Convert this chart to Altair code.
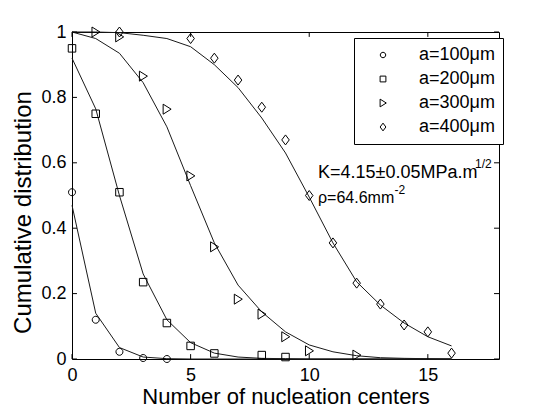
import altair as alt
import pandas as pd

series_names = ["a=100μm", "a=200μm", "a=300μm", "a=400μm"]

# measured points
x_100 = [0, 1, 2, 3, 4]
y_100 = [0.51, 0.12, 0.022, 0.003, 0.0]
x_200 = [0, 1, 2, 3, 4, 5, 6, 8, 9]
y_200 = [0.95, 0.75, 0.51, 0.235, 0.11, 0.04, 0.017, 0.012, 0.006]
x_300 = [1, 2, 3, 4, 5, 6, 7, 8, 9, 10, 12]
y_300 = [1.0, 0.985, 0.865, 0.764, 0.56, 0.343, 0.183, 0.137, 0.068, 0.025, 0.012]
x_400 = [2, 5, 6, 7, 8, 9, 10, 11, 12, 13, 14, 15, 16]
y_400 = [1.0, 0.98, 0.92, 0.853, 0.77, 0.67, 0.50, 0.355, 0.232, 0.168, 0.104, 0.083, 0.018]

# fitted curves
fit_x = [0, 1, 2, 3, 4, 5, 6, 7, 8, 9, 10, 11, 12, 13, 14, 15, 16]
fit_100 = [0.47, 0.14, 0.035, 0.006, 0.001, 0.0, 0.0, 0.0, 0.0, 0.0, 0.0, 0.0, 0.0, 0.0, 0.0, 0.0, 0.0]
fit_200 = [0.92, 0.765, 0.50, 0.26, 0.12, 0.05, 0.018, 0.006, 0.002, 0.001, 0.0, 0.0, 0.0, 0.0, 0.0, 0.0, 0.0]
fit_300 = [1.0, 0.98, 0.935, 0.845, 0.71, 0.53, 0.355, 0.226, 0.144, 0.083, 0.043, 0.022, 0.01, 0.004, 0.002, 0.001, 0.0]
fit_400 = [1.0, 1.0, 0.998, 0.99, 0.98, 0.955, 0.90, 0.83, 0.737, 0.63, 0.495, 0.355, 0.236, 0.165, 0.11, 0.068, 0.04]

x_ticks = [0, 5, 10, 15]
y_ticks = [0, 0.2, 0.4, 0.6, 0.8, 1]

ann_main = ["K=4.15±0.05MPa.m", "ρ=64.6mm"]
ann_sup = ["1/2", "-2"]

# ---- build tables ----
pts = pd.concat([
    pd.DataFrame({"x": xs, "y": ys, "series": name})
    for xs, ys, name in zip([x_100, x_200, x_300, x_400],
                            [y_100, y_200, y_300, y_400], series_names)
])
fits = pd.concat([
    pd.DataFrame({"x": fit_x, "y": ys, "series": name})
    for ys, name in zip([fit_100, fit_200, fit_300, fit_400], series_names)
])

FONT = "Liberation Sans"
x_scale = alt.Scale(domain=[0, 18], nice=False, zero=False)
y_scale = alt.Scale(domain=[0, 1], nice=False, zero=False)

x_axis = alt.Axis(values=x_ticks, title="Number of nucleation centers", labelFlush=False,
                  labelPadding=7, titleY=44, titleBaseline="alphabetic", titleFontSize=22)
y_axis = alt.Axis(values=y_ticks, format="~g", title="Cumulative distribution",
                  labelPadding=6, titleX=-42, titleY=180, titleAngle=270,
                  titleAlign="center", titleBaseline="alphabetic", titleFontSize=24)

circ = "M-0.7,0A0.7,0.7,0,1,1,0.7,0A0.7,0.7,0,1,1,-0.7,0Z"
sq = "M-0.75,-0.75L0.75,-0.75L0.75,0.75L-0.75,0.75Z"
tri = "M-0.75,-1L0.85,0L-0.75,1Z"
dia = "M0,-1L0.75,0L0,1L-0.75,0Z"

lines = alt.Chart(fits).mark_line(color="#1a1a1a", strokeWidth=1).encode(
    x=alt.X("x:Q", scale=x_scale, axis=x_axis),
    y=alt.Y("y:Q", scale=y_scale, axis=y_axis),
    detail="series:N",
)

points = alt.Chart(pts).mark_point(filled=False, color="black", strokeWidth=1,
                                   opacity=1, size=100).encode(
    x=alt.X("x:Q", axis=x_axis),
    y=alt.Y("y:Q", axis=y_axis),
    shape=alt.Shape("series:N", scale=alt.Scale(domain=series_names,
                                                range=[circ, sq, tri, dia]),
                    legend=alt.Legend(
                        orient="none", legendX=282, legendY=6, title=None,
                        labelFont=FONT, labelFontSize=18, labelColor="black",
                        symbolSize=60, symbolStrokeWidth=1, symbolStrokeColor="black",
                        strokeColor="black", fillColor="white", padding=8,
                        rowPadding=6, labelOffset=27, symbolOffset=12, cornerRadius=0)),
)

xt = pd.DataFrame({"x": x_ticks})
yt = pd.DataFrame({"y": y_ticks})
tick_bottom = alt.Chart(xt).mark_rule(color="black", strokeWidth=1).encode(
    x=alt.X("x:Q", axis=x_axis), y=alt.YDatum(0, axis=y_axis), y2=alt.Y2Datum(0.015))
tick_top = alt.Chart(xt).mark_rule(color="black", strokeWidth=1).encode(
    x=alt.X("x:Q", axis=x_axis), y=alt.YDatum(1, axis=y_axis), y2=alt.Y2Datum(0.985))
tick_left = alt.Chart(yt).mark_rule(color="black", strokeWidth=1).encode(
    y=alt.Y("y:Q", axis=y_axis), x=alt.XDatum(0, axis=x_axis), x2=alt.X2Datum(0.21))
tick_right = alt.Chart(yt).mark_rule(color="black", strokeWidth=1).encode(
    y=alt.Y("y:Q", axis=y_axis), x=alt.XDatum(18, axis=x_axis), x2=alt.X2Datum(17.79))


def label(text, x, y, size):
    return alt.Chart(pd.DataFrame({"t": [text]})).mark_text(
        align="left", baseline="alphabetic", font=FONT, fontSize=size, color="black"
    ).encode(x=alt.XDatum(x, axis=x_axis), y=alt.YDatum(y, axis=y_axis), text="t:N")


texts = [
    label(ann_main[0], 10.37, 0.553, 18),
    label(ann_sup[0], 16.99, 0.584, 12),
    label(ann_main[1], 10.37, 0.477, 16),
    label(ann_sup[1], 13.6, 0.505, 12),
]

chart = alt.layer(lines, points, tick_bottom, tick_top, tick_left, tick_right, *texts).properties(
    width=427, height=327,
    autosize=alt.AutoSizeParams(type="none"),
    padding={"left": 64, "top": 24, "right": 44, "bottom": 46},
    background="white",
).configure_view(stroke="black", strokeWidth=1).configure_axis(
    grid=False, domain=False, ticks=False, tickSize=0,
    labelFont=FONT, labelFontSize=18, labelColor="black",
    titleFont=FONT, titleFontWeight="normal", titleColor="black",
)

chart.save("out.html", embed_options={"renderer": "svg", "actions": False})
